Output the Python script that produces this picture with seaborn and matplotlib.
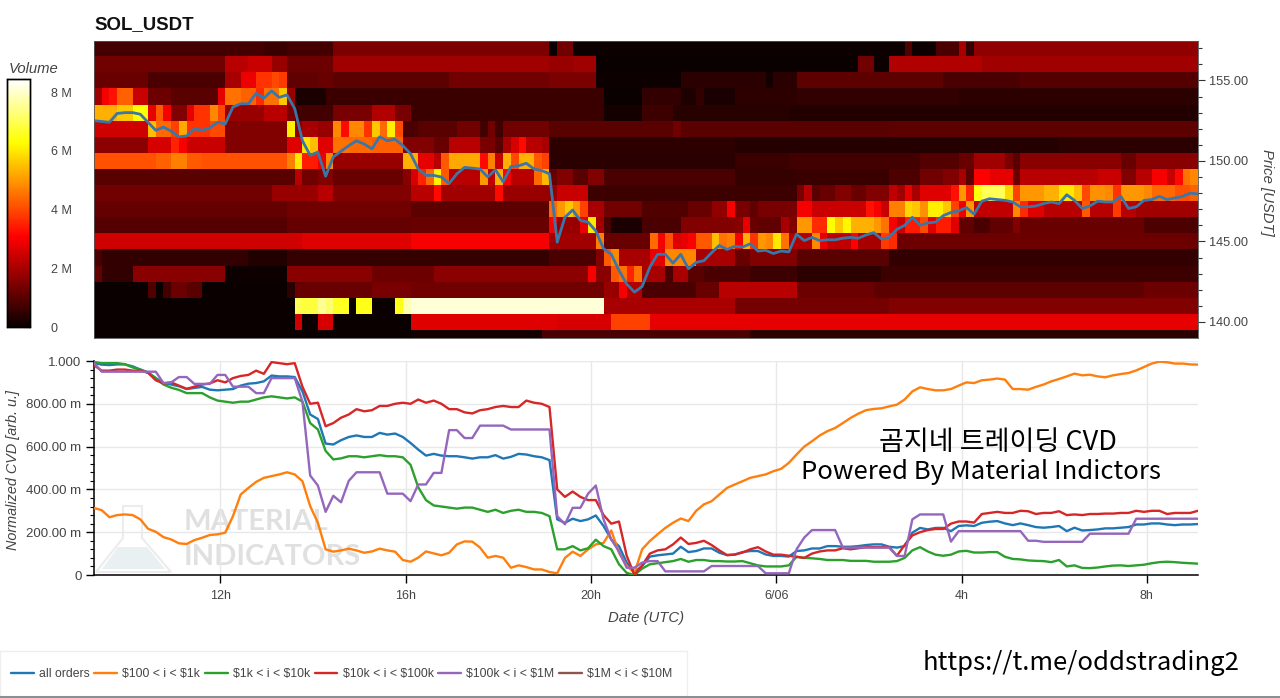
import numpy as np
import pandas as pd
import seaborn as sns
import matplotlib
matplotlib.use("Agg")
import matplotlib.pyplot as plt
from matplotlib.lines import Line2D
from matplotlib.patches import Rectangle, Polygon
from matplotlib.ticker import FixedLocator

# ---------- heat map: one run list per price level, (last column, volume in M) ----------
heat_157 = [(22,.75),(25,.6),(31,.75),(59,1.45),(60,0),(62,1.3),(105,.04),(106,.9),(109,.05),(112,.8),(113,2),(114,.5),(143,1.7)]
heat_156 = [(17,1.3),(20,2.2),(23,2.4),(25,1.8),(31,1.25),(59,1.9),(62,1.8),(65,1.9),(99,0),(101,1.3),(103,.05),(115,2.1),(143,1.9)]
heat_155 = [(7,1.2),(17,.8),(19,2),(21,2.9),(23,3.7),(24,4),(25,3.8),(29,1.1),(31,1.2),(46,1.05),(59,1.3),(65,1.45),(76,.05),(87,.4),(88,.1),(91,.4),(110,1.05),(120,.8),(143,.95)]
heat_154 = [(1,1.9),(2,3),(3,3.3),(5,4.3),(7,2.4),(10,1.25),(16,1),(17,2.8),(19,4.5),(21,4.3),(22,3.6),(24,4.5),(25,5.6),(26,1.8),(30,.2),(66,.6),(71,0),(76,.5),(78,.25),(79,.5),(83,.2),(91,.45),(112,.5),(143,.45)]
heat_153 = [(3,5.3),(5,5.6),(7,6.3),(8,2.8),(9,4.2),(10,3),(12,1.5),(13,2.8),(15,3.7),(16,4.8),(17,4),(22,1.8),(25,2.2),(26,1.4),(31,.7),(36,1.4),(39,2.1),(41,1.4),(66,.6),(71,.15),(75,.65),(90,.38),(143,.3)]
heat_152 = [(7,2.5),(8,5.5),(10,4.4),(11,3.9),(12,5.2),(15,3.7),(17,4),(25,1.5),(26,6.1),(27,1.6),(29,2),(31,1.8),(32,4.8),(33,3.2),(35,4.8),(36,3.7),(37,5.6),(38,4.4),(39,6.1),(40,4),(42,.8),(47,1),(50,1.3),(51,.7),(52,1.3),(53,.7),(59,1.3),(75,1),(76,1.3),(103,1),(143,1.05)]
heat_151 = [(7,1.65),(10,2.6),(11,3.5),(12,3),(17,2.4),(25,1.5),(27,2.7),(28,6),(29,5.5),(31,2.7),(33,4.5),(36,4.4),(40,4.3),(44,1.5),(46,1.2),(50,2.2),(52,1.4),(53,1),(54,2),(55,2.6),(56,3.2),(58,2.2),(59,2),(83,.45),(125,.35),(143,.4)]
heat_150 = [(8,4.1),(10,4.3),(12,4.7),(14,4.2),(25,4.1),(26,4.7),(27,6),(29,3.4),(30,2.9),(31,4.8),(40,1.8),(42,5.3),(44,2.8),(45,2.2),(46,4.2),(50,5.2),(51,3.2),(52,4.7),(53,2.4),(54,5.3),(55,4),(57,5.3),(58,4.2),(59,3.9),(83,.4),(90,.6),(107,.7),(112,.95),(114,1.2),(118,1.9),(119,1.4),(120,1),(133,1.6),(135,1.2),(143,1.6)]
heat_149 = [(26,1),(27,2.2),(29,1.3),(31,1.5),(40,1.2),(41,1.6),(42,2.6),(43,3.5),(44,4.4),(45,6.1),(46,4.2),(50,2.2),(51,5),(52,2.3),(53,5.3),(54,3),(57,2.2),(58,4.4),(59,5.4),(60,1.2),(62,1.5),(64,1),(66,1.5),(83,.8),(91,.55),(103,.6),(107,.85),(110,1.3),(112,1.5),(113,2),(114,1),(116,3.1),(119,2.8),(120,1.2),(130,2.2),(133,2.4),(135,1.5),(137,2.2),(139,3),(140,2.4),(141,3.2),(142,4.5),(143,4.8)]
heat_148 = [(23,1.3),(29,1.8),(31,2.2),(41,1.5),(44,2.2),(45,3.2),(52,1.9),(53,3.2),(60,1.8),(64,2.4),(91,.65),(92,1.4),(93,2.2),(94,1),(96,1.2),(98,1.5),(100,1.2),(103,1.5),(104,2.3),(105,1.9),(106,2.8),(107,2),(111,2.7),(112,3.3),(113,5),(114,3.5),(115,6.4),(118,7),(119,5.8),(120,3.9),(123,5),(125,5.3),(127,6),(128,5.5),(129,4),(131,4.9),(132,4.8),(133,3.7),(136,5),(137,4.8),(140,4.4),(142,4.1),(143,4.3)]
heat_147 = [(25,1.15),(41,1.3),(59,1.05),(60,4.4),(61,5),(62,5.6),(63,5),(64,3.9),(66,2),(71,1.3),(77,.9),(80,1.2),(82,1.7),(83,3),(85,1.4),(86,1.1),(91,1.4),(93,3),(100,2.4),(101,3.3),(102,3),(103,2.4),(105,4.7),(106,5.8),(107,5.6),(108,4.9),(110,6.1),(111,5.6),(112,3.9),(113,2.9),(114,5),(119,2.3),(120,4.8),(121,3.6),(123,2.7),(128,2.2),(129,4.2),(132,2.2),(133,3.8),(135,2.2),(143,1.9)]
heat_146 = [(25,.95),(41,1.15),(59,1.2),(60,3),(63,1.8),(64,2.8),(65,6),(66,1.9),(67,.8),(71,.2),(76,.8),(83,1.5),(84,1.6),(85,2.8),(86,1.2),(89,1.1),(90,2),(91,1.5),(93,5),(95,3.6),(96,6.3),(97,5.6),(98,6.2),(101,5.3),(102,5),(103,4.5),(104,3),(105,2.4),(107,3.4),(108,4),(109,2.7),(111,3.4),(112,2.7),(114,1.1),(116,.8),(119,1.1),(120,1.5),(136,1.2),(143,.85)]
heat_145 = [(27,2.5),(41,2.7),(59,3),(65,1.9),(66,4.7),(72,1.2),(73,4.4),(74,3),(75,4.1),(76,2.7),(77,2.8),(78,3.1),(80,4.2),(81,5.5),(82,4.5),(83,4.7),(84,3),(85,5.3),(86,3.7),(87,5),(88,4.8),(89,6),(90,4.5),(93,2.1),(94,4.8),(95,2.8),(98,2.3),(99,3.1),(102,2),(103,3.8),(104,3.6),(143,1.25)]
heat_144 = [(1,.8),(20,.5),(25,.3),(59,.55),(65,.8),(66,1.5),(67,4.2),(68,4.8),(72,2),(74,2.8),(78,4.8),(83,2),(85,1.2),(91,1.5),(103,1),(143,.5)]
heat_143 = [(1,1.15),(5,.5),(17,1.6),(25,.05),(36,1.6),(44,1.25),(64,1.65),(65,3),(67,1.6),(68,4.2),(69,4.5),(70,3.5),(71,4.5),(74,2),(75,.8),(77,2),(79,1),(84,.8),(85,.85),(91,.65),(102,.45),(143,.65)]
heat_142 = [(7,0),(8,.9),(9,0),(10,.7),(12,1.25),(14,1),(25,0),(26,.4),(36,1.2),(41,1.4),(66,1.3),(68,1.8),(69,3),(71,2.1),(78,.8),(81,1.2),(91,2.2),(101,1.25),(136,1.05),(143,1.25)]
heat_141 = [(26,0),(27,7),(29,6.8),(30,7.5),(31,7.2),(33,6.6),(34,0),(36,6.5),(39,0),(40,6.5),(41,7.8),(66,8.1),(83,2),(103,1.35),(143,1.5)]
heat_140 = [(26,0),(27,2.5),(29,.05),(31,2.6),(41,0),(60,2.7),(67,2.6),(72,3.9),(143,2.8)]
heat_139 = [(41,0),(58,.15),(83,.8),(85,.85),(143,.45)]
heat_rows = [heat_157, heat_156, heat_155, heat_154, heat_153, heat_152, heat_151, heat_150, heat_149, heat_148,
             heat_147, heat_146, heat_145, heat_144, heat_143, heat_142, heat_141, heat_140, heat_139]

# ---------- price every 10 minutes ----------
price = [152.5,152.45,152.4,152.95,153.0,153.0,152.9,152.4,151.9,152.1,151.85,151.5,151.55,152.0,151.9,152.05,152.4,152.3,153.35,153.55,
         153.55,154.2,153.9,154.35,153.95,154.1,153.25,151.25,150.35,150.55,149.05,150.25,150.6,150.95,151.25,151.05,150.75,151.5,151.25,151.35,
         150.95,150.45,149.5,149.1,149.1,149.0,148.6,149.2,149.6,149.55,149.5,149.0,149.45,148.7,149.65,149.7,149.85,149.5,149.4,149.2,
         144.95,146.5,146.95,146.3,146.2,145.65,144.55,144.2,143.2,142.35,141.85,142.2,143.4,144.2,144.2,143.65,144.2,143.3,143.7,143.8,
         144.3,144.75,144.5,144.7,144.65,144.85,144.4,144.45,144.25,144.4,144.35,145.45,145.05,145.25,145.05,145.1,145.1,145.2,145.25,145.2,
         145.4,145.55,145.15,145.25,145.75,146.0,146.5,146.0,146.15,146.2,146.6,146.8,146.9,147.1,146.7,147.5,147.65,147.6,147.55,147.45,
         147.15,147.15,147.2,147.35,147.45,147.35,147.9,147.55,147.05,147.2,147.5,147.45,147.45,147.8,147.05,147.15,147.55,147.6,147.8,147.6,
         147.7,147.8,148.0,147.95]

# ---------- normalised CVD every 10 minutes ----------
cvd_all = [.99,.983,.981,.984,.984,.975,.96,.947,.92,.897,.89,.882,.869,.874,.879,.866,.863,.866,.869,.885,
           .894,.897,.905,.932,.928,.928,.925,.858,.75,.729,.614,.61,.63,.645,.652,.645,.645,.664,.656,.661,
           .645,.617,.586,.558,.566,.558,.555,.555,.55,.544,.55,.55,.56,.544,.552,.566,.563,.555,.55,.537,
           .26,.244,.263,.252,.26,.278,.229,.166,.135,.058,.014,.042,.086,.092,.096,.1,.132,.107,.112,.124,
           .124,.104,.093,.096,.107,.112,.112,.096,.089,.089,.086,.112,.115,.124,.124,.135,.135,.132,.132,.135,
           .14,.143,.143,.132,.128,.135,.198,.22,.213,.22,.22,.205,.229,.232,.229,.244,.249,.252,.241,.233,
           .241,.233,.224,.221,.224,.229,.205,.221,.208,.21,.213,.218,.218,.221,.224,.236,.236,.241,.241,.236,
           .233,.236,.236,.238]
cvd_100_1k = [.313,.303,.27,.28,.283,.28,.26,.216,.202,.177,.166,.148,.145,.163,.174,.187,.19,.198,.275,.376,
              .407,.435,.454,.462,.47,.48,.47,.438,.322,.244,.12,.109,.115,.123,.115,.104,.11,.123,.115,.109,
              .07,.062,.081,.11,.101,.092,.104,.143,.157,.156,.128,.081,.089,.081,.034,.045,.037,.026,.026,.014,
              .008,.08,.109,.089,.12,.143,.15,.208,.104,.042,.01,.12,.159,.19,.22,.244,.264,.252,.3,.33,
              .345,.376,.407,.423,.438,.454,.462,.47,.485,.496,.524,.563,.6,.625,.652,.672,.687,.71,.734,.754,
              .77,.776,.779,.788,.796,.82,.858,.877,.869,.863,.863,.869,.885,.9,.897,.91,.913,.918,.913,.869,
              .869,.866,.879,.89,.905,.916,.928,.941,.933,.936,.928,.924,.933,.939,.944,.956,.972,.988,.997,.994,
              .988,.988,.984,.983]
cvd_1k_10k = [.995,.99,.99,.99,.985,.97,.96,.945,.92,.89,.875,.865,.85,.85,.85,.83,.815,.81,.805,.81,
              .81,.82,.83,.835,.83,.825,.83,.81,.71,.68,.58,.54,.545,.555,.555,.55,.555,.56,.555,.555,
              .55,.515,.41,.35,.325,.32,.315,.31,.315,.315,.305,.295,.305,.29,.3,.305,.295,.295,.29,.275,
              .12,.12,.135,.115,.125,.165,.135,.12,.05,.01,.0,.03,.05,.055,.06,.065,.075,.062,.07,.07,
              .065,.065,.063,.063,.065,.055,.045,.04,.04,.04,.045,.085,.08,.078,.075,.07,.07,.07,.066,.066,
              .066,.062,.062,.062,.065,.08,.115,.13,.11,.095,.09,.095,.11,.113,.105,.105,.107,.107,.085,.075,
              .073,.068,.066,.065,.06,.07,.04,.045,.033,.032,.035,.04,.044,.045,.042,.045,.048,.055,.06,.062,
              .06,.057,.055,.053]
cvd_10k_100k = [.98,.955,.955,.96,.96,.955,.955,.945,.91,.895,.9,.885,.87,.88,.89,.895,.91,.9,.92,.93,
                .935,.955,.94,.995,.99,.985,.99,.88,.8,.805,.695,.71,.735,.75,.775,.765,.77,.79,.79,.8,
                .805,.8,.82,.805,.815,.8,.775,.775,.76,.755,.77,.775,.785,.79,.785,.785,.815,.805,.8,.785,
                .4,.365,.39,.365,.35,.35,.28,.24,.25,.09,.0,.045,.1,.115,.12,.143,.175,.145,.15,.16,
                .14,.115,.093,.095,.105,.12,.13,.11,.095,.095,.09,.085,.08,.1,.11,.115,.115,.125,.12,.125,
                .13,.13,.13,.13,.09,.14,.185,.2,.21,.215,.215,.24,.25,.25,.245,.285,.29,.295,.29,.29,
                .3,.298,.285,.29,.29,.298,.28,.283,.28,.285,.285,.287,.287,.29,.29,.3,.295,.3,.3,.285,
                .29,.29,.29,.3]
cvd_100k_1m = [.99,.95,.95,.95,.95,.95,.95,.95,.95,.897,.9,.925,.925,.893,.893,.893,.935,.935,.88,.88,
               .88,.85,.85,.92,.92,.92,.92,.81,.465,.418,.295,.37,.34,.44,.48,.48,.48,.48,.38,.38,
               .38,.345,.423,.423,.477,.477,.677,.677,.64,.64,.698,.698,.698,.698,.68,.68,.68,.68,.68,.68,
               .275,.237,.314,.314,.38,.418,.26,.166,.11,.034,.034,.058,.065,.065,.017,.017,.017,.017,.017,.017,
               .042,.042,.042,.042,.042,.042,.042,.008,.008,.008,.008,.12,.175,.21,.21,.21,.21,.128,.128,.128,
               .128,.128,.128,.128,.089,.089,.26,.283,.283,.283,.283,.156,.205,.205,.205,.205,.205,.205,.205,.205,
               .205,.16,.16,.155,.155,.155,.155,.155,.155,.193,.193,.193,.193,.193,.193,.263,.263,.263,.263,.263,
               .263,.263,.263,.263]
cvd_1m_10m = []

series_names = ["all orders", "$100 < i < $1k", "$1k < i < $10k", "$10k < i < $100k", "$100k < i < $1M", "$1M < i < $10M"]
series_values = [cvd_all, cvd_100_1k, cvd_1k_10k, cvd_10k_100k, cvd_100k_1m, cvd_1m_10m]
series_colors = ["#1f77b4", "#ff7f0e", "#2ca02c", "#d62728", "#9467bd", "#8c564b"]

price_ticks = [140, 145, 150, 155]
vol_ticks = [0, 2, 4, 6, 8]
vol_labels = ["0", "2 M", "4 M", "6 M", "8 M"]
time_ticks = [12, 16, 20, 24, 28, 32]
time_labels = ["12h", "16h", "20h", "6/06", "4h", "8h"]
cvd_ticks = [0, .2, .4, .6, .8, 1]
cvd_labels = ["0", "200.00 m", "400.00 m", "600.00 m", "800.00 m", "1.000"]

T0 = 9.27        # first time on the axis, hours since 00:00 of 6/05
STEP = 1 / 6     # ten minutes
TXT = "#444444"
W, H = 1280, 698

def expand(runs):
    out, start = [], 0
    for end, val in runs:
        out += [val] * (end - start)
        start = end
    return out

matrix = pd.DataFrame([expand(r) for r in heat_rows], index=list(range(157, 138, -1)))
times = T0 + np.arange(len(price)) * STEP

sns.set_theme(style="white")
plt.rcParams["font.family"] = ["Liberation Sans", "DejaVu Sans"]

fig = plt.figure(figsize=(W / 100, H / 100), dpi=100)
def box(x0, y0, x1, y1):
    return [x0 / W, 1 - y1 / H, (x1 - x0) / W, (y1 - y0) / H]

ax = fig.add_axes(box(94, 41, 1198, 338))
cax = fig.add_axes(box(7, 79, 30, 327))
low = fig.add_axes(box(94, 361, 1198, 575))

# --- heat map
sns.heatmap(matrix, ax=ax, cbar_ax=cax, cmap="hot", vmin=0, vmax=8.45,
            xticklabels=False, yticklabels=False, cbar_kws={"ticks": vol_ticks})
ax.set_xlabel(""); ax.set_ylabel("")
to_col = lambda t: (np.asarray(t) - T0) / STEP
to_row = lambda p: 157.5 - np.asarray(p, dtype=float)
sns.lineplot(x=to_col(times), y=to_row(price), ax=ax, color="#3a76a8", lw=2.0, legend=False, errorbar=None, sort=False)
ax.set_xlabel(""); ax.set_ylabel("")
ax.set_xlim(0, 143)
ax.set_ylim(to_row(139.0), to_row(157.45))
ax.yaxis.tick_right()
ax.yaxis.set_major_locator(FixedLocator(to_row(price_ticks)))
ax.set_yticklabels([f"{p:.2f}" for p in price_ticks], rotation=0)
ax.yaxis.set_minor_locator(FixedLocator(to_row(list(range(140, 158)))))
ax.tick_params(axis="y", which="major", right=True, left=False, length=5, width=.8, color="#333333", labelsize=9.2, labelcolor=TXT, pad=3)
ax.tick_params(axis="y", which="minor", right=True, left=False, length=3, width=.8, color="#333333")
ax.tick_params(axis="x", bottom=False)
for s in ax.spines.values():
    s.set_visible(True); s.set_linewidth(.6); s.set_color("#555555")
fig.text(1267 / W, 1 - 192 / H, "Price [USDT]", rotation=270, fontstyle="italic", fontsize=10.7, color=TXT, va="center", ha="center")
fig.text(94 / W, 1 - 25 / H, "SOL_USDT", fontsize=13.4, fontweight="bold", color="#111111", va="center", ha="left")

# --- colour bar
cax.set_yticklabels(vol_labels)
cax.tick_params(axis="y", which="major", right=True, direction="in", length=4, width=.8, color="black", labelsize=9, labelcolor=TXT, pad=15)
cax.minorticks_off()
for s in cax.spines.values():
    s.set_visible(True); s.set_linewidth(1); s.set_color("black")
fig.text(9 / W, 1 - 69 / H, "Volume", fontsize=10.7, fontstyle="italic", color=TXT, va="center", ha="left")

# --- watermark behind the CVD lines
def px(x, y):
    return ((x - 94) / 1104, (575 - y) / 214)
flask = [px(*p) for p in [(123, 506), (142, 506), (142, 538), (171, 572), (96, 572), (123, 538)]]
low.add_patch(Polygon(flask, closed=True, transform=low.transAxes, fill=False, ec="#ececec", lw=1.5, zorder=0))
liquid = [px(*p) for p in [(118, 547), (147, 547), (165, 569), (102, 569)]]
low.add_patch(Polygon(liquid, closed=True, transform=low.transAxes, fc="#e8f0f1", ec="none", zorder=0))
low.text(*px(184, 522), "MATERIAL", transform=low.transAxes, fontsize=21, fontweight="bold", family="Lato", color="#e0e0e0", va="center", ha="left", zorder=0)
low.text(*px(184, 557), "INDICATORS", transform=low.transAxes, fontsize=21, fontweight="bold", family="Lato", color="#e0e0e0", va="center", ha="left", zorder=0)

# --- CVD lines
long_df = pd.concat([pd.DataFrame({"time": times[:len(v)], "cvd": v, "order": n})
                     for n, v in zip(series_names, series_values) if len(v)])
sns.lineplot(data=long_df, x="time", y="cvd", hue="order", hue_order=series_names[:5],
             palette=series_colors[:5], ax=low, lw=1.7, legend=False, errorbar=None, zorder=3)
low.set_xlim(T0, T0 + 143 * STEP)
low.set_ylim(0, 1)
low.set_xticks(time_ticks, time_labels)
low.set_yticks(cvd_ticks, cvd_labels)
low.yaxis.set_minor_locator(FixedLocator(np.arange(0, 1.001, .04)))
low.grid(True, which="major", color="#e8e8e8", lw=1)
low.set_axisbelow(True)
low.tick_params(axis="x", which="major", bottom=True, direction="out", length=6, width=1, color="black", labelsize=9, labelcolor=TXT, pad=5)
low.tick_params(axis="y", which="major", left=True, direction="out", length=6, width=1, color="black", labelsize=9.5, labelcolor=TXT, pad=3)
low.tick_params(axis="y", which="minor", left=True, direction="out", length=3, width=.8, color="black")
for name in ("top", "right"):
    low.spines[name].set_visible(False)
for name in ("left", "bottom"):
    low.spines[name].set_visible(True); low.spines[name].set_color("black"); low.spines[name].set_linewidth(1.1)
low.set_xlabel("Date (UTC)", fontstyle="italic", fontsize=10.7, color=TXT, va="center")
low.xaxis.set_label_coords((646 - 94) / 1104, -(618 - 575) / 214)
low.set_ylabel("Normalized CVD [arb. u.]", fontstyle="italic", fontsize=10.4, color=TXT, va="center")
low.yaxis.set_label_coords(-(94 - 13) / 1104, 1 - (470 - 361) / 214)

# --- legend
fig.add_artist(Rectangle((0, 1 - 696 / H), 687 / W, 45 / H, transform=fig.transFigure, fc="white", ec="#eeeeee", lw=1))
handles = [Line2D([], [], color=c, lw=1.7) for c in series_colors]
legend_labels = [n.replace("$", r"\$") for n in series_names]
fig.legend(handles, legend_labels, loc="center left", bbox_to_anchor=(11 / W, 1 - 674 / H), ncol=6, frameon=False,
           fontsize=8.8, labelcolor=TXT, handlelength=1.85, handletextpad=.42, columnspacing=.4, borderaxespad=0, borderpad=0)
fig.add_artist(Rectangle((0, 0), 1, 2 / H, transform=fig.transFigure, fc="#8a8f94", ec="none"))

# --- overlay captions
KR = ["Noto Sans CJK KR", "DejaVu Sans"]
fig.text(998 / W, 1 - 443 / H, "곰지네 트레이딩 CVD", family=KR, fontsize=19.5, fontweight="medium", color="black", ha="center", va="center")
fig.text(981 / W, 1 - 472 / H, "Powered By Material Indictors", family=KR, fontsize=18.5, fontweight="medium", color="black", ha="center", va="center")
fig.text(1081 / W, 1 - 663 / H, "https://t.me/oddstrading2", family=KR, fontsize=18.5, fontweight="medium", color="black", ha="center", va="center")

fig.savefig("out.png", dpi=100)
